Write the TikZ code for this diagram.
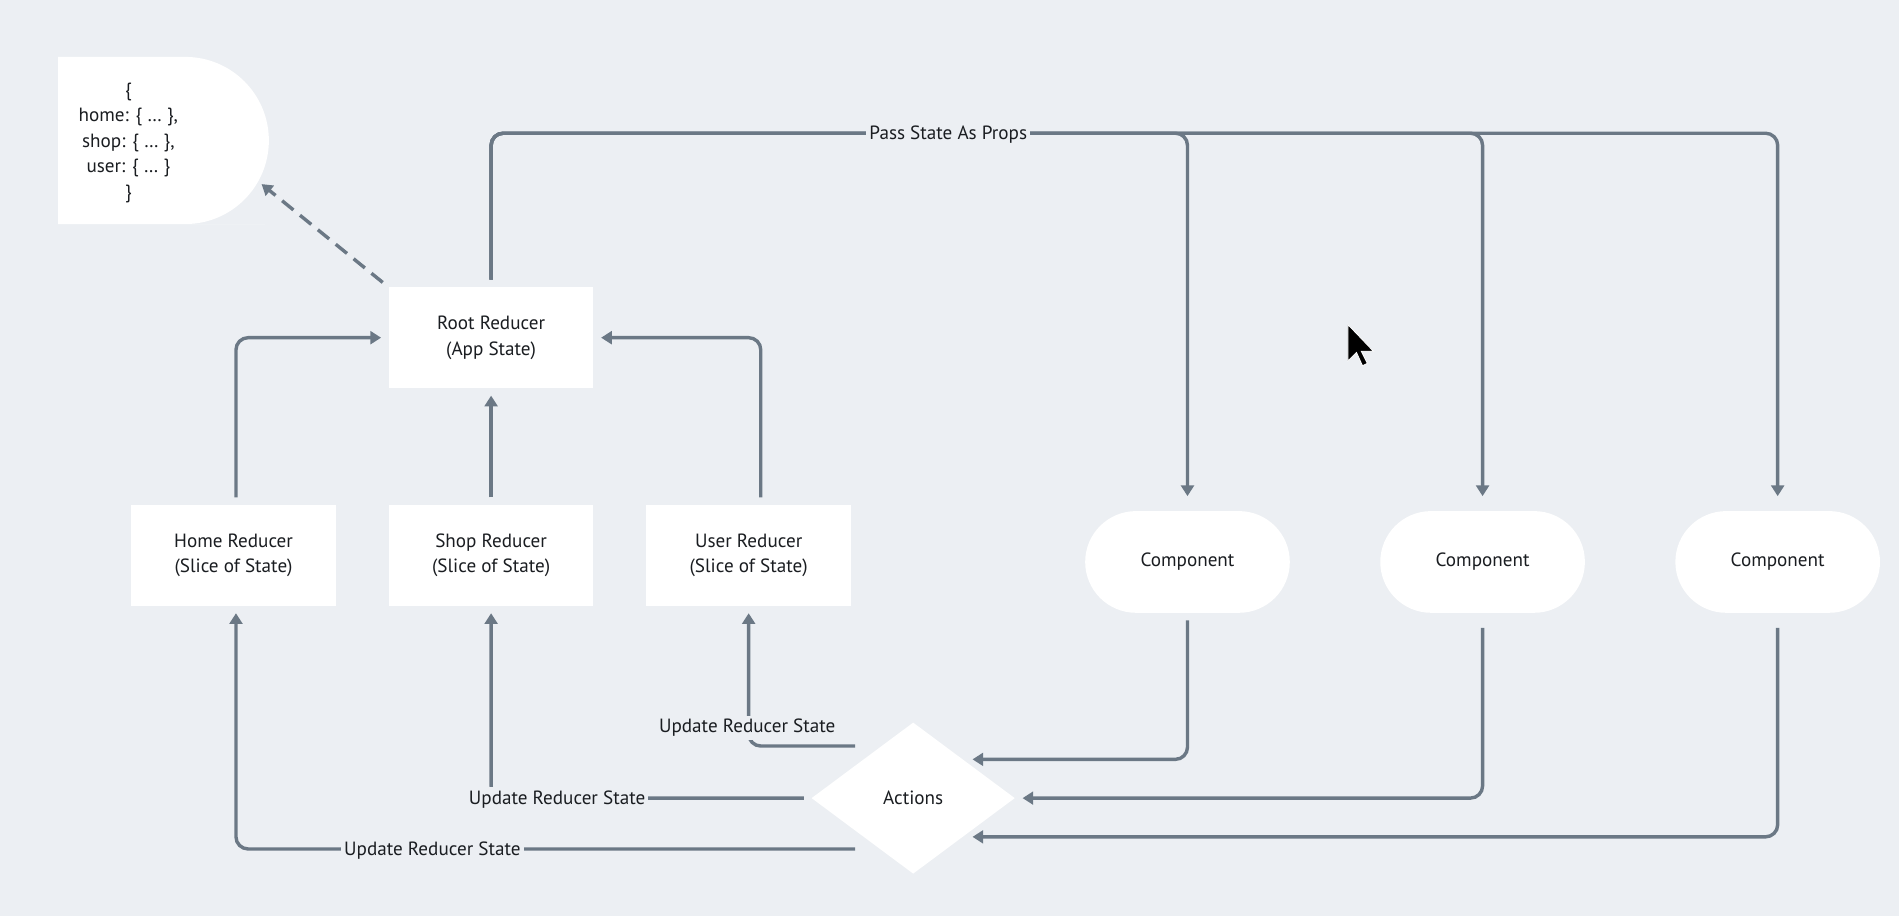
\documentclass[tikz,border=0pt]{standalone}
\usepackage{fontspec}
\setmainfont{PT Sans}
\usetikzlibrary{shapes.geometric, arrows.meta, positioning, calc}
\definecolor{bgcol}{HTML}{ECEFF3}
\definecolor{wire}{HTML}{6B7885}
\definecolor{ink}{HTML}{1A1D21}

\begin{document}
\begin{tikzpicture}[
        x=0.02cm, y=-0.02cm,
        font=\fontsize{9}{12}\selectfont,
        text=ink,
        box/.style={rectangle, fill=white, minimum width=3.38cm, minimum height=1.66cm, align=center},
        comp/.style={rectangle, rounded corners=0.84cm, fill=white, minimum width=3.38cm, minimum height=1.68cm},
        decision/.style={diamond, fill=white, aspect=1.34, minimum width=3.36cm, minimum height=2.5cm, inner sep=0pt},
        arrow/.style={line width=1.6pt, draw=wire, rounded corners=0.2cm, -{Triangle[length=5pt, width=6pt]}, shorten >=0.12cm, shorten <=0.12cm},
        lbl/.style={fill=bgcol, inner sep=1.5pt}
    ]
        \fill[bgcol] (0,0) rectangle (1568,756);
        \useasboundingbox (0,0) rectangle (1568,756);

        % state bubble
        \fill[white] (48,47) -- (150,47) [rounded corners=1.38cm] -- (222,47) -- (222,185) -- (150,185) [sharp corners] -- (48,185) -- cycle;
        \node[align=center] (state) at (106,118) {\{\\home: \{ … \},\\shop: \{ … \},\\user: \{ … \}\\\}};
        \coordinate (statetip) at (216,152);

        \node[box] (shop) at (405.5,458.5) {Shop Reducer\\(Slice of State)};
        \node[box, left=0.86cm of shop] (home) {Home Reducer\\(Slice of State)};
        \node[box, right=0.86cm of shop] (user) {User Reducer\\(Slice of State)};
        \node[box, above=1.92cm of shop] (root) {Root Reducer\\(App State)};

        \node[comp] (comp1) at (980.5,464) {Component};
        \node[comp, right=1.48cm of comp1] (comp2) {Component};
        \node[comp, right=1.48cm of comp2] (comp3) {Component};

        \node[decision] (act) at (754,659) {Actions};

        \coordinate (bus) at (0,110);
        \coordinate (outU) at (706,616);
        \coordinate (outH) at (706,701);
        \coordinate (in1) at (803,627);
        \coordinate (in3) at (803,691);

        % props to components
        \draw[arrow, shorten >=0.24cm] (root.north) |- (bus -| comp1) -- (comp1);
        \draw[arrow, shorten >=0.24cm] (root.north) |- (bus -| comp2) -- (comp2);
        \draw[arrow, shorten >=0.24cm] (root.north) |- (bus -| comp3) -- (comp3);
        \draw[arrow, dashed, dash pattern=on 0.24cm off 0.14cm, shorten >=0pt] (root.north west) -- (statetip);

        % slices into root
        \draw[arrow] ($(home.north)+(2,0)$) |- (root.west);
        \draw[arrow] (shop) -- (root);
        \draw[arrow] ($(user.north)+(10,0)$) |- (root.east);

        % actions
        \draw[arrow, shorten <=0pt] (outU) -| (user.south);
        \draw[arrow] (act.west) -| (shop.south);
        \draw[arrow, shorten <=0pt] (outH) -| ($(home.south)+(2,0)$);
        \draw[arrow, shorten <=0.12cm, shorten >=0pt] (comp1.south) |- (in1);
        \draw[arrow, shorten <=0.24cm] (comp2.south) |- (act.east);
        \draw[arrow, shorten <=0.24cm, shorten >=0pt] (comp3.south) |- (in3);

        \node[lbl] (props) at (783,111) {Pass State As Props};
        \node[lbl] (upduser) at (617,601) {Update Reducer State};
        \node[lbl] (updshop) at (460,660) {Update Reducer State};
        \node[lbl] (updhome) at (357,702) {Update Reducer State};

        % mouse pointer
        \fill[black, draw=white, line width=0.4pt] (1113,268) -- ++(0,30) -- ++(7,-7) -- ++(5,11) -- ++(4,-2) -- ++(-5,-10) -- ++(10,0) -- cycle;
    \end{tikzpicture}
\end{document}
